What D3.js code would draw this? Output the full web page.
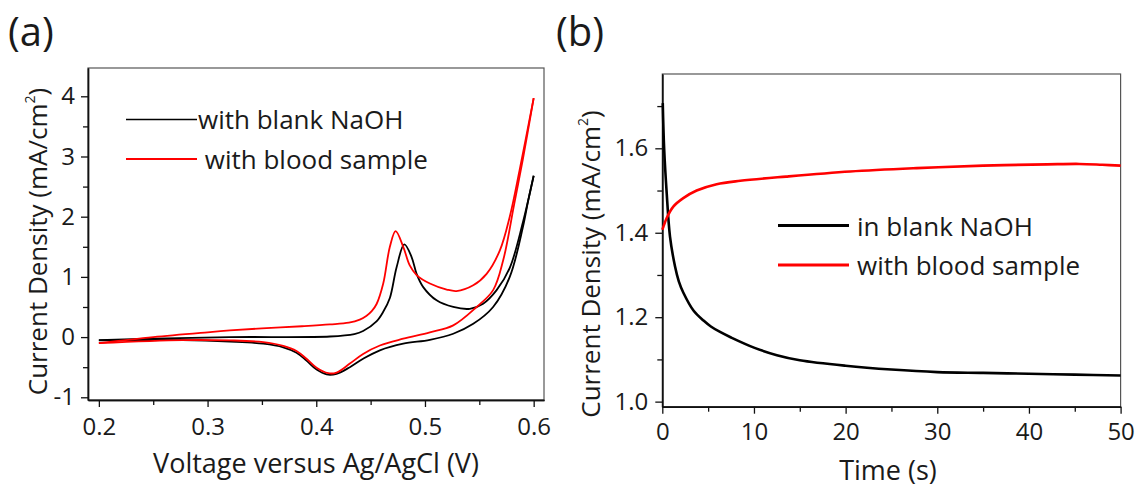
<!DOCTYPE html>
<html><head><meta charset="utf-8">
<script src="https://cdn.jsdelivr.net/npm/d3@7"></script>
<style>
body{margin:0;background:#fff}
svg{display:block}
text{font-family:"Open Sans",sans-serif;fill:#1a1a1a}
</style>
</head><body><svg id="c" width="1136" height="490"></svg>
<script>
// ---------- Panel (a): cyclic voltammetry ----------
const seriesNamesA = ["with blank NaOH", " with blood sample"];
const blankFwdV = [0.200,0.250,0.3205,0.4126,0.435,0.4431,0.4554,0.4616,0.4677,0.4739,0.481,0.4877,0.4923,0.4984,0.5107,0.526,0.5413,0.5535,0.5659,0.578,0.590,0.600];
const blankFwdI = [-0.05,-0.025,0.0,0.01,0.05,0.1,0.26,0.42,0.65,1.16,1.54,1.33,1.05,0.83,0.61,0.50,0.47,0.555,0.78,1.15,1.9,2.68];
const blankRevV = [0.600,0.595,0.590,0.578,0.5627,0.5444,0.526,0.5045,0.480,0.4585,0.4431,0.4309,0.4187,0.4095,0.4003,0.391,0.3818,0.3696,0.3512,0.3205,0.277,0.200];
const blankRevI = [2.68,2.27,1.82,1.0,0.5,0.22,0.056,-0.045,-0.11,-0.22,-0.36,-0.5,-0.61,-0.62,-0.54,-0.39,-0.26,-0.17,-0.11,-0.075,-0.05,-0.055];
const bloodFwdV = [0.200,0.250,0.300,0.3205,0.350,0.3868,0.4126,0.430,0.440,0.446,0.451,0.4555,0.4616,0.4677,0.473,0.480,0.486,0.4923,0.5045,0.520,0.529,0.5444,0.5567,0.5689,0.578,0.587,0.600];
const bloodFwdI = [-0.10,0.0,0.08,0.11,0.145,0.18,0.21,0.24,0.29,0.35,0.43,0.55,0.89,1.5,1.76,1.5,1.19,1.03,0.89,0.79,0.765,0.86,1.05,1.44,2.0,2.77,3.97];
const bloodRevV = [0.600,0.590,0.582,0.572,0.5627,0.5475,0.526,0.5045,0.480,0.4585,0.4431,0.4309,0.4187,0.411,0.4003,0.391,0.3818,0.3696,0.3512,0.3205,0.277,0.200];
const bloodRevI = [3.97,2.95,2.2,1.28,0.78,0.5,0.195,0.08,-0.027,-0.14,-0.28,-0.44,-0.59,-0.6,-0.51,-0.36,-0.23,-0.145,-0.083,-0.055,-0.05,-0.10];
const xTicksA = [0.2,0.3,0.4,0.5,0.6];
const xMinorA = [0.25,0.35,0.45,0.55];
const yTicksA = [-1,0,1,2,3,4];
const yMinorA = [-0.5,0.5,1.5,2.5,3.5];
const xDomainA = [0.19,0.6095];
const yDomainA = [-1.045,4.47];

// ---------- Panel (b): chronoamperometry ----------
const seriesNamesB = ["in blank NaOH", "with blood sample"];
const blankT = [0.05,0.2,0.48,0.84,1.39,1.8,2.3,3.4,4.5,5.3,6.3,7.5,10,12.5,15,20,25,30,35,40,45,50];
const blankJ = [1.707,1.6,1.494,1.391,1.32,1.285,1.258,1.216,1.192,1.178,1.165,1.152,1.128,1.11,1.098,1.085,1.076,1.07,1.068,1.066,1.064,1.062];
const bloodT = [0,0.1,0.48,1.2,2.29,3.75,5.93,8.5,13.5,20.5,27.75,35,42,45.5,48,50];
const bloodJ = [1.407,1.413,1.435,1.462,1.482,1.5,1.515,1.523,1.533,1.545,1.553,1.559,1.562,1.563,1.561,1.559];
const xTicksB = [0,10,20,30,40,50];
const xMinorB = [5,15,25,35,45];
const yTicksB = [1.0,1.2,1.4,1.6];
const yMinorB = [1.1,1.3,1.5,1.7];
const xDomainB = [0,50];
const yDomainB = [0.988,1.776];

const svg = d3.select("#c");
const RED = "#ff0000", BLK = "#000000";

function panel(box, xDom, yDom, xT, xM, yT, yM, xFmt, yFmt, lblPadX, lblPadY) {
  const x = d3.scaleLinear().domain(xDom).range([box.l, box.r]);
  const y = d3.scaleLinear().domain(yDom).range([box.b, box.t]);
  svg.append("rect").attr("x", box.l).attr("y", box.t)
    .attr("width", box.r - box.l).attr("height", box.b - box.t)
    .attr("fill", "none").attr("stroke", "#555").attr("stroke-width", 1.2);
  const style = g => {
    g.attr("font-family", null).attr("font-size", null);
    g.selectAll("text").style("font-size", "24px").style("fill", "#1a1a1a");
    g.selectAll("line").attr("stroke", "#111").attr("stroke-width", 1.3);
    g.select(".domain").attr("stroke", "#111").attr("stroke-width", 1.4);
  };
  svg.append("g").attr("transform", `translate(0,${box.b})`)
    .call(d3.axisBottom(x).tickValues(xM).tickSize(5).tickFormat("").tickSizeOuter(0)).call(style);
  svg.append("g").attr("transform", `translate(${box.l},0)`)
    .call(d3.axisLeft(y).tickValues(yM).tickSize(5).tickFormat("").tickSizeOuter(0)).call(style);
  svg.append("g").attr("transform", `translate(0,${box.b})`)
    .call(d3.axisBottom(x).tickValues(xT).tickSize(7).tickPadding(lblPadX).tickFormat(xFmt).tickSizeOuter(0)).call(style);
  svg.append("g").attr("transform", `translate(${box.l},0)`)
    .call(d3.axisLeft(y).tickValues(yT).tickSize(7).tickPadding(lblPadY).tickFormat(yFmt).tickSizeOuter(0)).call(style);
  return {x, y};
}

function curve(sc, xs, ys, color, w) {
  const pts = d3.zip(xs, ys);
  const line = d3.line().x(d => sc.x(d[0])).y(d => sc.y(d[1])).curve(d3.curveCatmullRom.alpha(0.5));
  svg.append("path").attr("d", line(pts)).attr("fill", "none")
    .attr("stroke", color).attr("stroke-width", w).attr("stroke-linejoin", "round");
}

function yTitle(xb, cy) {
  const t = svg.append("text").attr("transform", `translate(${xb},${cy}) rotate(-90)`)
    .attr("text-anchor", "middle").style("font-size", "26px");
  t.append("tspan").text("Current Density (mA/cm");
  t.append("tspan").text("2").style("font-size", "14px").attr("dy", -12);
  t.append("tspan").text(")").attr("dy", 12);
}

// Panel (a)
const A = {l: 88, r: 544, t: 68, b: 400};
const sa = panel(A, xDomainA, yDomainA, xTicksA, xMinorA, yTicksA, yMinorA,
  d3.format(".1f"), d => String(d).replace("\u2212", "-"), 11, 6);
curve(sa, blankFwdV, blankFwdI, BLK, 1.8);
curve(sa, blankRevV, blankRevI, BLK, 1.8);
curve(sa, bloodFwdV, bloodFwdI, RED, 1.8);
curve(sa, bloodRevV, bloodRevI, RED, 1.8);

svg.append("line").attr("x1", 126).attr("x2", 197).attr("y1", 119.5).attr("y2", 119.5).attr("stroke", BLK).attr("stroke-width", 1.6);
svg.append("line").attr("x1", 126).attr("x2", 197).attr("y1", 159).attr("y2", 159).attr("stroke", RED).attr("stroke-width", 1.8);
svg.append("text").attr("x", 198).attr("y", 129).style("font-size", "26px").text(seriesNamesA[0]);
svg.append("text").attr("x", 198).attr("y", 168.5).style("font-size", "26px").attr("xml:space", "preserve").style("white-space", "pre").text(seriesNamesA[1]);

svg.append("text").attr("x", 316).attr("y", 473).attr("text-anchor", "middle").style("font-size", "27px").text("Voltage versus Ag/AgCl (V)");
yTitle(47, 241.5);
svg.append("text").attr("x", 8).attr("y", 46).style("font-size", "40px").text("(a)");

// Panel (b)
const B = {l: 662.3, r: 1120.6, t: 74, b: 406.7};
const sb = panel(B, xDomainB, yDomainB, xTicksB, xMinorB, yTicksB, yMinorB,
  d3.format("d"), d3.format(".1f"), 9, 7);
curve(sb, blankT, blankJ, BLK, 2.6);
curve(sb, bloodT, bloodJ, RED, 2.6);

svg.append("line").attr("x1", 778).attr("x2", 849).attr("y1", 225.5).attr("y2", 225.5).attr("stroke", BLK).attr("stroke-width", 3);
svg.append("line").attr("x1", 778).attr("x2", 849).attr("y1", 265).attr("y2", 265).attr("stroke", RED).attr("stroke-width", 3);
svg.append("text").attr("x", 857).attr("y", 236).style("font-size", "26px").text(seriesNamesB[0]);
svg.append("text").attr("x", 857).attr("y", 275).style("font-size", "26px").text(seriesNamesB[1]);

svg.append("text").attr("x", 888).attr("y", 480).attr("text-anchor", "middle").style("font-size", "27px").text("Time (s)");
yTitle(600, 264);
svg.append("text").attr("x", 556).attr("y", 46).style("font-size", "40px").text("(b)");
</script>
</body></html>
